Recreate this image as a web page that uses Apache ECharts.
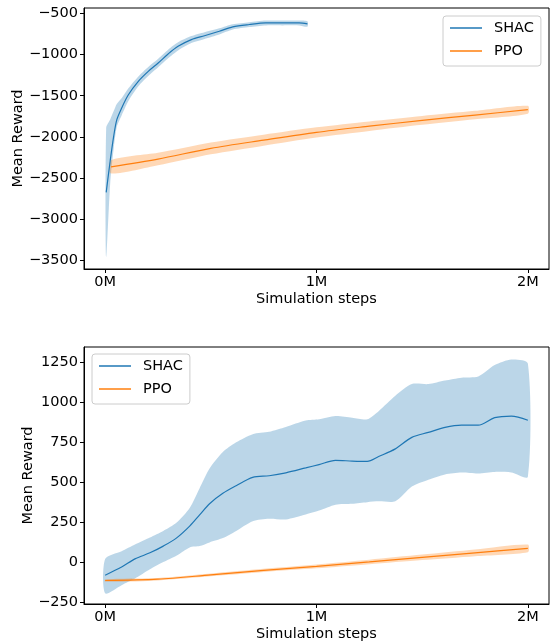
<!DOCTYPE html>
<html>
<head>
<meta charset="utf-8">
<script src="https://cdn.jsdelivr.net/npm/echarts@6/dist/echarts.min.js"></script>
<style>
    html, body {margin: 0; padding: 0; background: #fff;}
    #main {width: 550px; height: 643px;}
</style>
</head>
<body>
<div id="main"></div>
<script>
// 上图 (Simulation steps in M)
var shacTopSteps = [0.005, 0.024, 0.04, 0.055, 0.078, 0.11, 0.157, 0.204, 0.251, 0.298, 0.345, 0.408, 0.47, 0.54, 0.604, 0.682, 0.76, 0.839, 0.918, 0.957];
var shacTopMean = [-2675, -2290, -2000, -1793, -1650, -1488, -1325, -1204, -1102, -992, -899, -817, -770, -716, -663, -634, -614, -614, -614, -626];
var shacTopUpper = [-1890, -1790, -1690, -1600, -1530, -1410, -1265, -1150, -1050, -940, -850, -775, -728, -680, -630, -605, -585, -585, -585, -595];
var shacTopLower = [-3460, -2560, -2150, -1880, -1740, -1565, -1385, -1260, -1155, -1045, -950, -860, -810, -755, -695, -665, -645, -645, -645, -660];

var ppoTopSteps = [0.028, 0.25, 0.5, 0.75, 1.0, 1.25, 1.5, 1.75, 2.0];
var ppoTopMean = [-2365, -2270, -2140, -2040, -1945, -1870, -1800, -1735, -1670];
var ppoTopUpper = [-2285, -2194, -2068, -1973, -1883, -1812, -1746, -1684, -1622];
var ppoTopLower = [-2445, -2346, -2212, -2107, -2007, -1928, -1854, -1786, -1718];

// 下图
var shacBottomSteps = [0, 0.078, 0.141, 0.212, 0.275, 0.337, 0.4, 0.447, 0.494, 0.557, 0.62, 0.698, 0.776, 0.855, 0.949, 1.012, 1.09, 1.169, 1.24, 1.294, 1.373, 1.451, 1.529, 1.608, 1.686, 1.765, 1.843, 1.922, 2.0];
var shacBottomMean = [-82, -31, 20, 58, 100, 150, 225, 295, 365, 430, 478, 530, 540, 558, 589, 610, 636, 632, 630, 660, 708, 780, 811, 842, 856, 856, 903, 913, 887];
var shacBottomUpper = [20, 68, 110, 154, 195, 246, 339, 462, 585, 688, 749, 800, 815, 845, 885, 893, 913, 903, 893, 944, 1040, 1113, 1113, 1135, 1153, 1160, 1232, 1267, 1242];
var shacBottomLower = [-195, -144, -103, -45, 0, 40, 92, 100, 123, 150, 195, 256, 271, 267, 298, 322, 359, 365, 375, 380, 380, 472, 515, 548, 560, 554, 564, 560, 534];

var ppoBottomSteps = [0, 0.25, 0.5, 0.75, 1.0, 1.25, 1.5, 1.75, 2.0];
var ppoBottomMean = [-115, -107, -80, -52, -27, 1, 30, 58, 86];
var ppoBottomUpper = [-107, -99, -71, -42, -15, 15, 47, 79, 110];
var ppoBottomLower = [-123, -115, -89, -62, -39, -13, 13, 37, 62];

var xTicks = [0, 1, 2];
var yTicksTop = [-3500, -3000, -2500, -2000, -1500, -1000, -500];
var yTicksBottom = [-250, 0, 250, 500, 750, 1000, 1250];

var blue = '#1f77b4', orange = '#ff7f0e';
var fontFamily = 'DejaVu Sans';

function pairs(xs, ys) {
    var out = [];
    for (var i = 0; i < xs.length; i++) {
        out.push([xs[i], ys[i]]);
    }
    return out;
}

//阴影区: 用custom多边形, 坐标经由api.coord换算
function band(xs, lower, upper, color, idx) {
    var data = [];
    for (var i = 0; i < xs.length; i++) {
        data.push([xs[i], lower[i], upper[i]]);
    }
    return {
        type: 'custom', xAxisIndex: idx, yAxisIndex: idx, silent: true, z: 1,
        encode: {x: 0, y: [1, 2]},
        data: data,
        renderItem: function (params, api) {
            if (params.dataIndex !== 0) {
                return;
            }
            var points = [];
            for (var i = 0; i < xs.length; i++) {
                points.push(api.coord([xs[i], upper[i]]));
            }
            for (var j = xs.length - 1; j >= 0; j--) {
                points.push(api.coord([xs[j], lower[j]]));
            }
            return {
                type: 'polygon',
                shape: {points: points, smooth: 0.25},
                style: {fill: color, opacity: 0.3}
            };
        }
    };
}

function meanLine(name, xs, ys, color, idx) {
    return {
        name: name, type: 'line', xAxisIndex: idx, yAxisIndex: idx,
        symbol: 'none', smooth: 0.3,
        lineStyle: {color: color, width: 1.2}, itemStyle: {color: color},
        data: pairs(xs, ys), z: 3
    };
}

function minusSign(v) {
    return String(v).replace('-', '\u2212');
}

function xAxis(idx) {
    return {
        type: 'value', gridIndex: idx, min: -0.1, max: 2.1,
        name: 'Simulation steps', nameLocation: 'middle', nameGap: 23, nameMoveOverlap: false,
        nameTextStyle: {fontSize: 14.5, color: '#000', fontFamily: fontFamily},
        splitLine: {show: false},
        axisLine: {show: true, onZero: false, lineStyle: {color: '#000', width: 1}},
        axisTick: {show: true, length: 4, customValues: xTicks, lineStyle: {color: '#000'}},
        axisLabel: {
            customValues: xTicks, margin: 6, color: '#000', fontSize: 14.5, fontFamily: fontFamily,
            formatter: function (v) { return v + 'M'; }
        }
    };
}

function yAxis(idx, min, max, ticks, gap) {
    return {
        type: 'value', gridIndex: idx, min: min, max: max,
        name: 'Mean Reward', nameLocation: 'middle', nameGap: gap, nameMoveOverlap: false,
        nameTextStyle: {fontSize: 14.5, color: '#000', fontFamily: fontFamily},
        splitLine: {show: false},
        axisLine: {show: true, onZero: false, lineStyle: {color: '#000', width: 1}},
        axisTick: {show: true, length: 4, customValues: ticks, lineStyle: {color: '#000'}},
        axisLabel: {
            customValues: ticks, margin: 6, color: '#000', fontSize: 14.5, fontFamily: fontFamily,
            formatter: minusSign
        }
    };
}

function legend(left, top) {
    return {
        data: [{name: 'SHAC', icon: 'rect'}, {name: 'PPO', icon: 'rect'}],
        orient: 'vertical', left: left, top: top,
        padding: [4, 7, 7, 7], itemGap: 7, itemWidth: 32, itemHeight: 1.5,
        backgroundColor: '#fff', borderColor: '#cccccc', borderWidth: 1, borderRadius: 3,
        selectedMode: false,
        textStyle: {fontSize: 14.5, color: '#000', fontFamily: fontFamily, lineHeight: 16, padding: [0, 0, 0, 7]}
    };
}

var chart = echarts.init(document.getElementById('main'), null, {renderer: 'canvas'});

var series = [
    band(shacTopSteps, shacTopLower, shacTopUpper, blue, 0),
    band(ppoTopSteps, ppoTopLower, ppoTopUpper, orange, 0),
    band(shacBottomSteps, shacBottomLower, shacBottomUpper, blue, 1),
    band(ppoBottomSteps, ppoBottomLower, ppoBottomUpper, orange, 1),
    meanLine('SHAC', shacTopSteps, shacTopMean, blue, 0),
    meanLine('PPO', ppoTopSteps, ppoTopMean, orange, 0),
    meanLine('SHAC', shacBottomSteps, shacBottomMean, blue, 1),
    meanLine('PPO', ppoBottomSteps, ppoBottomMean, orange, 1)
];

var option = {
    backgroundColor: '#fff',
    animation: false,
    textStyle: {fontFamily: fontFamily},
    grid: [
        {left: 84, right: 1, top: 8, height: 261, show: true, borderColor: '#000', borderWidth: 1, backgroundColor: 'transparent'},
        {left: 84, right: 1, top: 347, height: 260, show: true, borderColor: '#000', borderWidth: 1, backgroundColor: 'transparent'}
    ],
    legend: [legend(443, 16), legend(92, 354)],
    xAxis: [xAxis(0), xAxis(1)],
    yAxis: [yAxis(0, -3607, -433, yTicksTop, 58), yAxis(1, -262, 1345, yTicksBottom, 48)],
    series: series
};

chart.setOption(option);
</script>
</body>
</html>
